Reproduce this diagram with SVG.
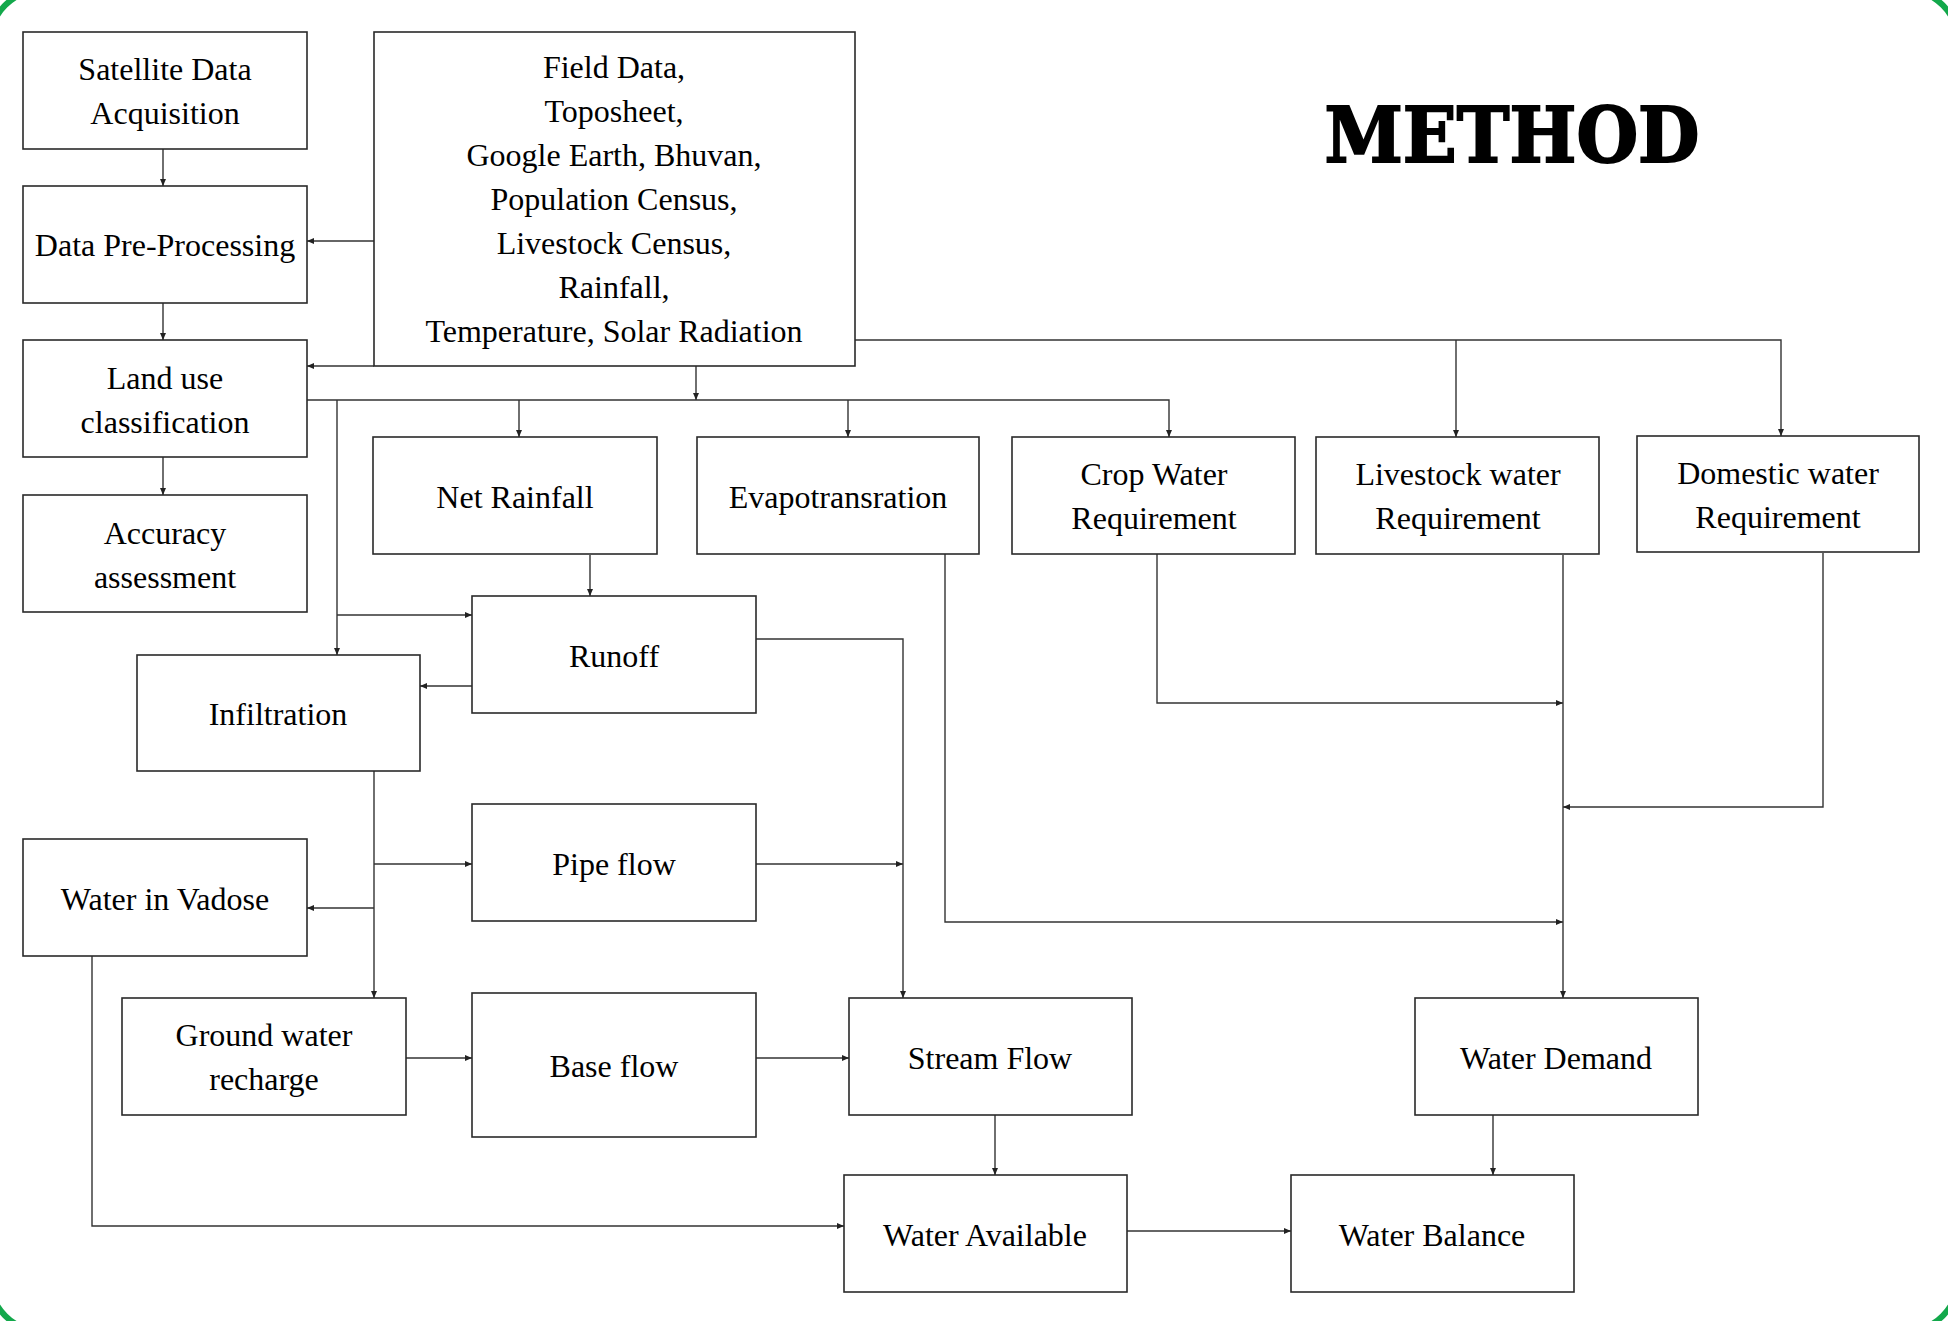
<svg xmlns="http://www.w3.org/2000/svg" width="1948" height="1321" viewBox="0 0 1948 1321">
<style>
.box{fill:#fff;stroke:#2a2a2a;stroke-width:1.6}
.t{font-family:"Liberation Serif","Times New Roman",serif;font-size:32px;fill:#000;text-anchor:middle}
.c{fill:none;stroke:#333;stroke-width:1.4}
.a{marker-end:url(#ah)}
</style>
<defs>
<marker id="ah" markerUnits="userSpaceOnUse" markerWidth="7" markerHeight="6" refX="7" refY="3" orient="auto">
<path d="M0,0 L7,3 L0,6 z" fill="#222"/>
</marker>
</defs>
<rect x="0" y="0" width="1948" height="1321" fill="#fff"/>
<rect x="-10" y="-10" width="1968" height="1341" rx="52" ry="52" fill="none" stroke="#13a84b" stroke-width="6"/>
<text x="1512" y="162" font-family="DejaVu Serif,serif" font-weight="bold" font-size="76" textLength="375" lengthAdjust="spacingAndGlyphs" text-anchor="middle" stroke="#000" stroke-width="2">METHOD</text>

<g id="connectors">
<path class="c a" d="M163,149 V186"/>
<path class="c a" d="M163,303 V340"/>
<path class="c a" d="M163,457 V495"/>
<path class="c a" d="M374,241 H307"/>
<path class="c a" d="M374,366 H307"/>
<path class="c a" d="M696,366 V400"/>
<path class="c a" d="M307,400 H1169 V437"/>
<path class="c a" d="M519,400 V437"/>
<path class="c a" d="M848,400 V437"/>
<path class="c a" d="M337,400 V655"/>
<path class="c a" d="M337,615 H472"/>
<path class="c a" d="M855,340 H1781 V436"/>
<path class="c a" d="M1456,340 V437"/>
<path class="c a" d="M590,555 V596"/>
<path class="c a" d="M472,686 H420"/>
<path class="c a" d="M756,639 H903 V998"/>
<path class="c a" d="M756,864 H903"/>
<path class="c a" d="M374,771 V998"/>
<path class="c a" d="M374,864 H472"/>
<path class="c a" d="M374,908 H307"/>
<path class="c a" d="M406,1058 H472"/>
<path class="c a" d="M756,1058 H849"/>
<path class="c a" d="M92,956 V1226 H844"/>
<path class="c a" d="M995,1115 V1175"/>
<path class="c a" d="M1127,1231 H1291"/>
<path class="c a" d="M1493,1115 V1175"/>
<path class="c a" d="M945,554 V922 H1563"/>
<path class="c a" d="M1157,554 V703 H1563"/>
<path class="c a" d="M1563,555 V998"/>
<path class="c a" d="M1823,553 V807 H1563"/>
</g>

<g id="satellite"><rect class="box" x="23" y="32" width="284" height="117"/><text class="t" x="165" y="80">Satellite Data</text><text class="t" x="165" y="124">Acquisition</text></g>
<g id="preprocessing"><rect class="box" x="23" y="186" width="284" height="117"/><text class="t" x="165" y="256">Data Pre-Processing</text></g>
<g id="landuse"><rect class="box" x="23" y="340" width="284" height="117"/><text class="t" x="165" y="389">Land use</text><text class="t" x="165" y="433">classification</text></g>
<g id="accuracy"><rect class="box" x="23" y="495" width="284" height="117"/><text class="t" x="165" y="544">Accuracy</text><text class="t" x="165" y="588">assessment</text></g>
<g id="fielddata"><rect class="box" x="374" y="32" width="481" height="334"/>
<text class="t" x="614" y="78">Field Data,</text>
<text class="t" x="614" y="122">Toposheet,</text>
<text class="t" x="614" y="166">Google Earth, Bhuvan,</text>
<text class="t" x="614" y="210">Population Census,</text>
<text class="t" x="614" y="254">Livestock Census,</text>
<text class="t" x="614" y="298">Rainfall,</text>
<text class="t" x="614" y="342">Temperature, Solar Radiation</text></g>
<g id="netrainfall"><rect class="box" x="373" y="437" width="284" height="117"/><text class="t" x="515" y="508">Net Rainfall</text></g>
<g id="evapo"><rect class="box" x="697" y="437" width="282" height="117"/><text class="t" x="838" y="508">Evapotransration</text></g>
<g id="crop"><rect class="box" x="1012" y="437" width="283" height="117"/><text class="t" x="1154" y="485">Crop Water</text><text class="t" x="1154" y="529">Requirement</text></g>
<g id="livestock"><rect class="box" x="1316" y="437" width="283" height="117"/><text class="t" x="1458" y="485">Livestock water</text><text class="t" x="1458" y="529">Requirement</text></g>
<g id="domestic"><rect class="box" x="1637" y="436" width="282" height="116"/><text class="t" x="1778" y="484">Domestic water</text><text class="t" x="1778" y="528">Requirement</text></g>
<g id="runoff"><rect class="box" x="472" y="596" width="284" height="117"/><text class="t" x="614" y="667">Runoff</text></g>
<g id="infiltration"><rect class="box" x="137" y="655" width="283" height="116"/><text class="t" x="278" y="725">Infiltration</text></g>
<g id="pipeflow"><rect class="box" x="472" y="804" width="284" height="117"/><text class="t" x="614" y="875">Pipe flow</text></g>
<g id="vadose"><rect class="box" x="23" y="839" width="284" height="117"/><text class="t" x="165" y="910">Water in Vadose</text></g>
<g id="groundwater"><rect class="box" x="122" y="998" width="284" height="117"/><text class="t" x="264" y="1046">Ground water</text><text class="t" x="264" y="1090">recharge</text></g>
<g id="baseflow"><rect class="box" x="472" y="993" width="284" height="144"/><text class="t" x="614" y="1077">Base flow</text></g>
<g id="streamflow"><rect class="box" x="849" y="998" width="283" height="117"/><text class="t" x="990" y="1069">Stream Flow</text></g>
<g id="waterdemand"><rect class="box" x="1415" y="998" width="283" height="117"/><text class="t" x="1556" y="1069">Water Demand</text></g>
<g id="wateravailable"><rect class="box" x="844" y="1175" width="283" height="117"/><text class="t" x="985" y="1246">Water Available</text></g>
<g id="waterbalance"><rect class="box" x="1291" y="1175" width="283" height="117"/><text class="t" x="1432" y="1246">Water Balance</text></g>
</svg>
